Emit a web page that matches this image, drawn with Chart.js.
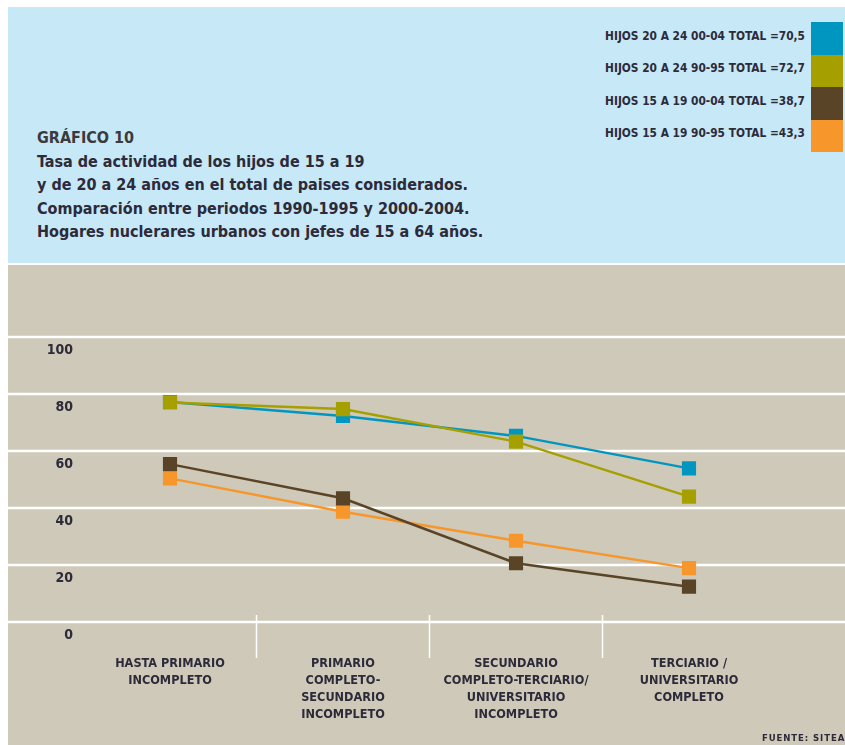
<!DOCTYPE html>
<html>
<head>
<meta charset="utf-8">
<script src="https://cdn.jsdelivr.net/npm/chart.js@4.4.1/dist/chart.umd.min.js"></script>
<style>
    body { margin: 0; width: 845px; height: 745px; overflow: hidden; position: relative; background: #fff;
           font-family: "Liberation Sans Narrow", "DejaVu Sans Condensed", sans-serif; font-weight: bold; color: #2d2a3a; }
    #panelTop { position: absolute; left: 8px; top: 7px; width: 837px; height: 256px; background: #c6e8f7; }
    #panelChart { position: absolute; left: 8px; top: 265px; width: 837px; height: 480px; background: #cfc9b9; }
    #titulo { position: absolute; left: 29px; top: 119px; font-size: 16px; line-height: 23.5px; white-space: nowrap; }
    #titulo .num { color: #3b3a3c; }
    #leyenda { position: absolute; right: 2px; top: 15px; }
    .fila { display: flex; align-items: center; justify-content: flex-end; height: 32.5px; }
    .fila span { font-size: 11.8px; margin-right: 6px; margin-bottom: 5px; white-space: nowrap; }
    .fila i { display: block; width: 32px; height: 32.5px; }
    #fuente { position: absolute; left: 754px; top: 467px; font-size: 9.5px; letter-spacing: 0.9px; white-space: nowrap; }
    canvas { position: absolute; left: 0; top: 0; }
</style>
</head>
<body>
<div id="panelTop">
    <div id="titulo">
        <span class="num">GRÁFICO 10</span><br>
        Tasa de actividad de los hijos de 15 a 19<br>
        y de 20 a 24 años en el total de paises considerados.<br>
        Comparación entre periodos 1990-1995 y 2000-2004.<br>
        Hogares nuclerares urbanos con jefes de 15 a 64 años.
    </div>
    <div id="leyenda"></div>
</div>
<div id="panelChart">
    <canvas id="tasaChart" width="837" height="480"></canvas>
    <div id="fuente">FUENTE: SITEA</div>
</div>
<script>
// Categorías (nivel educativo del jefe)
const categorias = [
    ['HASTA PRIMARIO', 'INCOMPLETO'],
    ['PRIMARIO', 'COMPLETO-', 'SECUNDARIO', 'INCOMPLETO'],
    ['SECUNDARIO', 'COMPLETO-TERCIARIO/', 'UNIVERSITARIO', 'INCOMPLETO'],
    ['TERCIARIO /', 'UNIVERSITARIO', 'COMPLETO']
];

const series = [
    'HIJOS 20 A 24 00-04 TOTAL =70,5',
    'HIJOS 20 A 24 90-95 TOTAL =72,7',
    'HIJOS 15 A 19 00-04 TOTAL =38,7',
    'HIJOS 15 A 19 90-95 TOTAL =43,3'
];

const hijos20a24_0004 = [77.2, 72.3, 65.3, 53.9];
const hijos20a24_9095 = [77.0, 74.7, 63.3, 44.0];
const hijos15a19_0004 = [55.4, 43.4, 20.6, 12.4];
const hijos15a19_9095 = [50.4, 38.7, 28.5, 18.9];

const yTicks = [0, 20, 40, 60, 80, 100];

const colores = ['#0096c0', '#a69f00', '#594427', '#f7962a'];
const orden = [1, 0, 2, 3]; // el oliva se dibuja por encima del azul

// Leyenda a la derecha del panel celeste
const leyenda = document.getElementById('leyenda');
series.forEach((s, i) => {
    const fila = document.createElement('div');
    fila.className = 'fila';
    fila.innerHTML = `<span>${s}</span><i style="background:${colores[i]}"></i>`;
    leyenda.appendChild(fila);
});

// Líneas blancas de fondo (a todo el ancho) y separadores de categorías
const fondoPlugin = {
    id: 'fondo',
    beforeDatasetsDraw(chart) {
        const { ctx, chartArea, scales } = chart;
        ctx.save();
        ctx.strokeStyle = '#ffffff';
        ctx.lineWidth = 2.5;
        yTicks.forEach(v => {
            const y = scales.y.getPixelForValue(v);
            ctx.beginPath();
            ctx.moveTo(0, y);
            ctx.lineTo(chart.width, y);
            ctx.stroke();
        });
        ctx.lineWidth = 1.5;
        for (let i = 0; i < categorias.length - 1; i++) {
            const x = (scales.x.getPixelForValue(i) + scales.x.getPixelForValue(i + 1)) / 2;
            ctx.beginPath();
            ctx.moveTo(x, chartArea.bottom - 7);
            ctx.lineTo(x, chartArea.bottom + 36);
            ctx.stroke();
        }
        ctx.restore();
    }
};

const datos = [hijos20a24_0004, hijos20a24_9095, hijos15a19_0004, hijos15a19_9095];
const fuenteEje = '"Liberation Sans Narrow", "DejaVu Sans Condensed", sans-serif';

const tasaCtx = document.getElementById('tasaChart').getContext('2d');
const tasaChart = new Chart(tasaCtx, {
    type: 'line',
    data: {
        labels: categorias,
        datasets: datos.map((d, i) => ({
            label: series[i],
            data: d,
            borderColor: colores[i],
            backgroundColor: colores[i],
            borderWidth: 2.5,
            pointStyle: 'rect',
            pointRadius: 10,
            pointHoverRadius: 10,
            pointBorderWidth: 0,
            tension: 0,
            order: orden[i]
        }))
    },
    options: {
        responsive: false,
        animation: false,
        layout: {
            padding: { top: 72, right: 69.5, left: 0, bottom: 0 }
        },
        plugins: {
            legend: { display: false },
            tooltip: { enabled: false }
        },
        scales: {
            x: {
                offset: true,
                grid: { display: false },
                border: { display: false },
                ticks: {
                    color: '#2d2a3a',
                    padding: 25,
                    maxRotation: 0,
                    autoSkip: false,
                    font: { family: fuenteEje, size: 12.6, weight: 'bold', lineHeight: 1.36 }
                },
                afterFit: (s) => { s.height = 123; }
            },
            y: {
                min: 0,
                max: 100,
                grid: { display: false },
                border: { display: false },
                ticks: {
                    stepSize: 20,
                    color: '#2d2a3a',
                    padding: 2.5,
                    labelOffset: 13,
                    font: { family: fuenteEje, size: 14, weight: 'bold' }
                },
                afterFit: (s) => { s.width = 75.5; }
            }
        }
    },
    plugins: [fondoPlugin]
});
</script>
</body>
</html>
